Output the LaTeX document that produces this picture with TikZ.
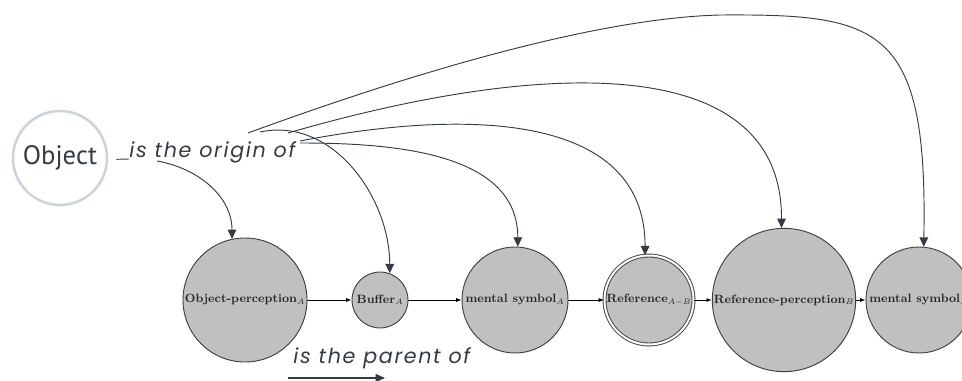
\documentclass[tikz,border=0pt]{standalone}
\usepackage{fontspec}
\usetikzlibrary{arrows.meta,positioning,shapes}
\newfontfamily\objfont{PT Sans}
\newfontfamily\handfont[LetterSpace=8]{Poppins}
\definecolor{mapslate}{HTML}{343B47}
\definecolor{mapring}{HTML}{CDD3DC}
\definecolor{stategray}{HTML}{C0C0C0}
\definecolor{stateedge}{HTML}{404040}

\begin{document}
\begin{tikzpicture}[x=0.75pt,y=-0.75pt,
    state/.style={circle,draw=stateedge,fill=stategray,line width=0.7pt,inner sep=1pt,
      font=\fontsize{9}{11}\selectfont\bfseries,text=black!85},
    originlink/.style={-{Triangle[length=7pt,width=6.5pt]},mapslate,line width=0.7pt},
    nextlink/.style={-{Latex[length=4pt,width=3pt]},black,line width=0.6pt},
    relation/.style={mapslate,font=\handfont\itshape\fontsize{15.5}{18}\selectfont}]
  \useasboundingbox (0,0) rectangle (962,381);

  % the object and its relation label
  \node[circle,draw=mapring,line width=1.9pt,minimum size=70.5pt,
        font=\objfont\fontsize{20}{24}\selectfont,text=mapslate] (object) at (60,158) {Object};
  \node[relation,anchor=base west,inner sep=0] (origin) at (129,157) {is the origin of};
  \draw[mapslate,line width=0.7pt] ([xshift=6pt,yshift=-1pt]object.east)
        -- ([yshift=-1.5pt]origin.base west);

  % chain of states
  \node[state,minimum size=93pt] (op) at (245,300) {Object-perception$_{A}$};
  \node[state,minimum size=42pt] (buf) at (380,300) {Buffer$_{A}$};
  \node[state,minimum size=79.5pt] (msa) at (515,300) {mental symbol$_{A}$};
  \node[state,double=white,double distance=1.5pt,minimum size=66.75pt] (ref) at (649,300)
        {Reference$_{A-B}$};
  \node[state,minimum size=106.5pt] (rp) at (784,300) {Reference-perception$_{B}$};
  \node[state,minimum size=79.5pt] (msb) at (919,300) {mental symbol$_{B}$};

  \draw[nextlink] (op) -- (buf);
  \draw[nextlink] (buf) -- (msa);
  \draw[nextlink] (msa) -- (ref);
  \draw[nextlink] (ref) -- (rp);
  \draw[nextlink] (rp) -- (msb);

  % links out of the label
  \coordinate (src-op) at (157,161);
  \coordinate (src-buf) at (260,132);
  \coordinate (src-msa) at (300,143);
  \coordinate (src-ref) at (300,141);
  \coordinate (src-rp) at (288,133);
  \coordinate (src-msb) at (248,133);
  \coordinate (msb-bend) at (720,15);
  \draw[originlink] (src-op) to[out=-10,in=90] (op.102);
  \draw[originlink] (src-buf) to[out=12,in=90] (buf.70);
  \draw[originlink] (src-msa) to[out=0,in=90] (msa.87);
  \draw[originlink] (src-ref) .. controls (460,110) and (645,110) .. (ref.95);
  \draw[originlink] (src-rp) .. controls (540,60) and (782,50) .. (rp.92);
  \draw[originlink] (src-msb) .. controls (420,70) and (600,18) .. (msb-bend)
        .. controls (880,14) and (928,25) .. (msb.85);

  % legend
  \node[relation,anchor=base west,inner sep=0] (parent) at (293,363) {is the parent of};
  \coordinate (legend-from) at (288,378);
  \coordinate (legend-to) at (385,378);
  \draw[mapslate,line width=1pt,-{Triangle[length=7pt,width=6pt]}] (legend-from) -- (legend-to);
\end{tikzpicture}
\end{document}
